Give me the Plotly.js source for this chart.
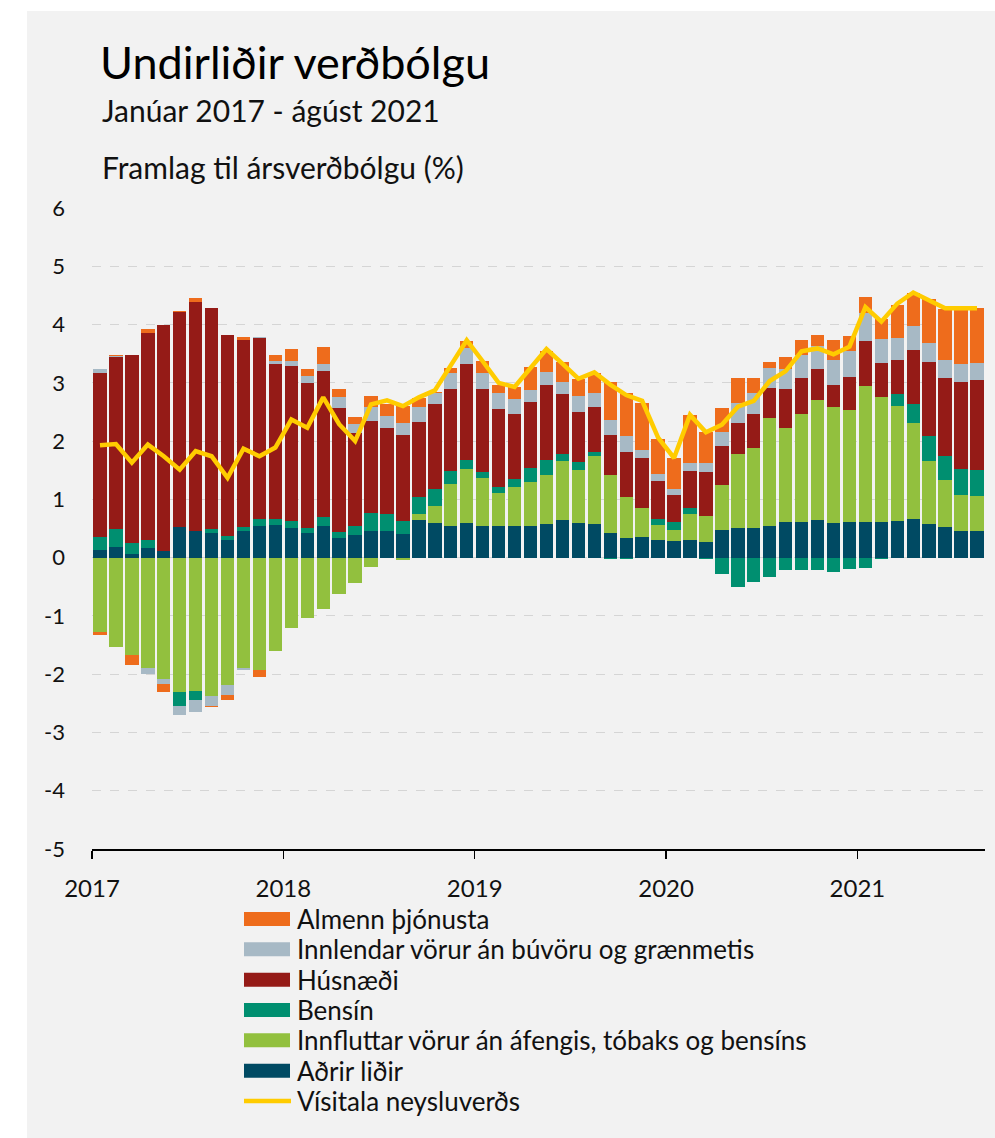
<!DOCTYPE html>
<html><head><meta charset="utf-8">
<script src="https://cdn.plot.ly/plotly-3.0.1.min.js"></script>
<style>
html,body{margin:0;padding:0;background:#ffffff;}
#chart{position:absolute;left:27px;top:11px;width:968px;height:1127px;}
</style></head><body><div id="chart"></div>
<script>
// Months Jan 2017 - Aug 2021
const months = [];
for (let y = 2017; y <= 2021; y++) for (let m = 1; m <= 12; m++) { if (y === 2021 && m > 8) break; months.push(y + '-' + String(m).padStart(2,'0')); }
const yearLabels = ['2017','2018','2019','2020','2021'];
const yTickValues = [-5,-4,-3,-2,-1,0,1,2,3,4,5,6];
const yTickLabels = ['-5','-4','-3','-2','-1','0','1','2','3','4','5','6'];

const adrir = [0.13,0.18,0.06,0.17,0.11,0.52,0.46,0.42,0.31,0.46,0.54,0.56, 0.51,0.42,0.54,0.34,0.38,0.46,0.46,0.40,0.65,0.59,0.55,0.59, 0.55,0.55,0.55,0.55,0.58,0.64,0.60,0.58,0.42,0.33,0.36,0.31, 0.29,0.31,0.27,0.47,0.51,0.51,0.54,0.62,0.61,0.65,0.59,0.62, 0.61,0.62,0.63,0.66,0.58,0.52,0.45,0.45];
const innflutt = [-1.27,-1.54,-1.67,-1.90,-2.08,-2.31,-2.29,-2.37,-2.19,-1.90,-1.93,-1.61, -1.21,-1.04,-0.88,-0.62,-0.43,-0.16,-0.01,-0.04,0.10,0.29,0.71,0.93, 0.82,0.56,0.66,0.74,0.83,1.01,0.91,1.17,0.99,0.71,0.49,0.25, 0.18,0.44,0.45,0.77,1.27,1.37,1.85,1.61,1.86,2.05,1.99,1.91, 2.34,2.13,1.98,1.65,1.07,0.82,0.62,0.60];
const bensin = [0.23,0.32,0.19,0.14,0.00,-0.24,-0.16,0.08,0.06,0.06,0.13,0.11, 0.12,0.09,0.15,0.10,0.17,0.31,0.29,0.23,0.29,0.29,0.23,0.15, 0.10,0.10,0.14,0.25,0.27,0.13,0.13,0.07,-0.02,-0.02,0.00,0.10, 0.15,0.10,-0.03,-0.28,-0.50,-0.41,-0.33,-0.22,-0.21,-0.22,-0.24,-0.20, -0.17,-0.02,0.19,0.33,0.43,0.41,0.45,0.45];
const husnaedi = [2.81,2.94,3.22,3.55,3.89,3.70,3.93,3.78,3.45,3.22,3.10,2.66, 2.66,2.49,2.52,2.13,1.59,1.57,1.48,1.47,1.28,1.47,1.41,1.65, 1.43,1.34,1.11,1.13,1.28,1.02,0.86,0.76,0.70,0.78,0.86,0.66, 0.46,0.64,0.75,0.68,0.53,0.58,0.52,0.66,0.62,0.54,0.39,0.57, 0.76,0.59,0.59,0.93,1.28,1.33,1.50,1.55];
const innlendar = [0.07,0.02,0.01,-0.09,-0.09,-0.15,-0.20,-0.17,-0.17,-0.03,0.02,0.04, 0.08,0.11,0.12,0.19,0.16,0.25,0.20,0.21,0.27,0.18,0.26,0.27, 0.27,0.27,0.27,0.20,0.23,0.21,0.27,0.25,0.25,0.26,0.14,0.11, 0.10,0.13,0.15,0.24,0.35,0.37,0.35,0.34,0.39,0.39,0.43,0.44, 0.49,0.42,0.38,0.41,0.33,0.31,0.31,0.29];
const almenn = [-0.06,0.02,-0.17,0.07,-0.13,0.02,0.06,-0.02,-0.08,0.04,-0.12,0.11, 0.21,0.13,0.29,0.13,0.11,0.19,0.20,0.30,0.15,0.02,0.10,0.13, 0.21,0.15,0.20,0.40,0.36,0.35,0.29,0.34,0.65,0.74,0.81,0.60, 0.53,0.82,0.53,0.40,0.42,0.25,0.09,0.22,0.25,0.19,0.34,0.26, 0.27,0.33,0.57,0.57,0.74,0.87,0.96,0.95];
const visitala = [1.93,1.95,1.63,1.94,1.74,1.51,1.83,1.74,1.37,1.87,1.74,1.89, 2.37,2.23,2.75,2.29,2.00,2.63,2.70,2.60,2.75,2.87,3.30,3.73, 3.37,3.00,2.93,3.27,3.58,3.33,3.07,3.18,2.97,2.79,2.69,2.06, 1.71,2.45,2.15,2.28,2.59,2.69,3.03,3.20,3.54,3.59,3.49,3.62, 4.30,4.05,4.36,4.55,4.42,4.28,4.28,4.28];

const seriesNames = ['Aðrir liðir','Innfluttar vörur án áfengis, tóbaks og bensíns','Bensín','Húsnæði','Innlendar vörur án búvöru og grænmetis','Almenn þjónusta'];
const seriesColors = ['#004A63','#92C03E','#008F70','#951B17','#A7B9C5','#EE6C1C'];
const seriesData = [adrir, innflutt, bensin, husnaedi, innlendar, almenn];
const lineName = 'Vísitala neysluverðs';
const lineColor = '#FFCC00';

const xpos = months.map((m,i) => i + 0.5);
const tickvals = yearLabels.map(y => months.indexOf(y + '-01'));

const FONT = 'Lato, "Open Sans", sans-serif';
const traces = seriesData.map((d,k) => ({
  type:'bar', x: xpos, y: d, name: seriesNames[k], width: 0.84,
  marker:{color: seriesColors[k], line:{width:0}}, hoverinfo:'skip', showlegend:false
}));
traces.push({type:'scatter', mode:'lines', x: xpos, y: visitala, name: lineName,
  line:{color: lineColor, width:4.5}, hoverinfo:'skip', showlegend:false});

const W = 968, H = 1127, L = 65, R = 10, T = 197, B = 289;
const ph = H - T - B;
const py = yd => (H - B - yd) / ph;   // div pixel y -> paper y
const px = xd => (xd - L) / (W - L - R);

// Legend drawn as shapes + text (top to bottom)
const legendOrder = [5,4,3,2,1,0];
const shapes = [], annotations = [];
const rowTop = 908, rowStep = 30.33;
legendOrder.forEach((k, r) => {
  const c = rowTop + r * rowStep;
  shapes.push({type:'rect', xref:'paper', yref:'paper', x0: px(217), x1: px(263), y0: py(c+7), y1: py(c-7),
               fillcolor: seriesColors[k], line:{width:0}});
  annotations.push({text: seriesNames[k], xref:'paper', yref:'paper', x: px(268), y: py(c), xanchor:'left', yanchor:'middle',
                    showarrow:false, font:{size:26, family:FONT, color:'#111'}});
});
{
  const c = rowTop + 6 * rowStep;
  shapes.push({type:'line', xref:'paper', yref:'paper', x0: px(217), x1: px(264), y0: py(c), y1: py(c),
               line:{color: lineColor, width:4.5}});
  annotations.push({text: lineName, xref:'paper', yref:'paper', x: px(268), y: py(c), xanchor:'left', yanchor:'middle',
                    showarrow:false, font:{size:26, family:FONT, color:'#111'}});
}
annotations.push(
  {text:'Janúar 2017 - ágúst 2021', xref:'paper', yref:'paper', x: px(73), y: py(99), xanchor:'left', yanchor:'middle',
   showarrow:false, font:{size:30, family:FONT, color:'#111'}},
  {text:'Framlag til ársverðbólgu (%)', xref:'paper', yref:'paper', x: px(73), y: py(156), xanchor:'left', yanchor:'middle',
   showarrow:false, font:{size:30, family:FONT, color:'#111'}}
);

const layout = {
  width: W, height: H,
  margin:{l:L, r:R, t:T, b:B, autoexpand:false},
  paper_bgcolor:'#F2F2F2', plot_bgcolor:'rgba(0,0,0,0)',
  barmode:'relative', bargap:0,
  font:{family: FONT, color:'#111111'},
  title:{text:'Undirliðir verðbólgu', xref:'container', x: 73/W, xanchor:'left',
         yref:'container', y: 1 - 52/H, yanchor:'middle', font:{size:45, family:FONT, color:'#000'}},
  xaxis:{range:[0,56], tickvals: tickvals, ticktext: yearLabels, ticks:'outside', ticklen:8, tickwidth:1.5,
         tickcolor:'#000', showline:true, linecolor:'#000', linewidth:1.5, showgrid:false, zeroline:false,
         tickfont:{size:24, family:FONT, color:'#111'}, ticklabelstandoff:10, automargin:false, fixedrange:true},
  yaxis:{range:[-5,6], tickvals: yTickValues, ticktext: yTickLabels, showgrid:true, gridcolor:'#D5D5D5', griddash:'dash', gridwidth:1,
         zeroline:false, showline:false, ticks:'', ticklabelstandoff:26,
         tickfont:{size:22, family:FONT, color:'#111'}, automargin:false, fixedrange:true},
  shapes: shapes,
  annotations: annotations,
  showlegend:false
};

Plotly.newPlot('chart', traces, layout, {displayModeBar:false, staticPlot:true});
</script></body></html>
